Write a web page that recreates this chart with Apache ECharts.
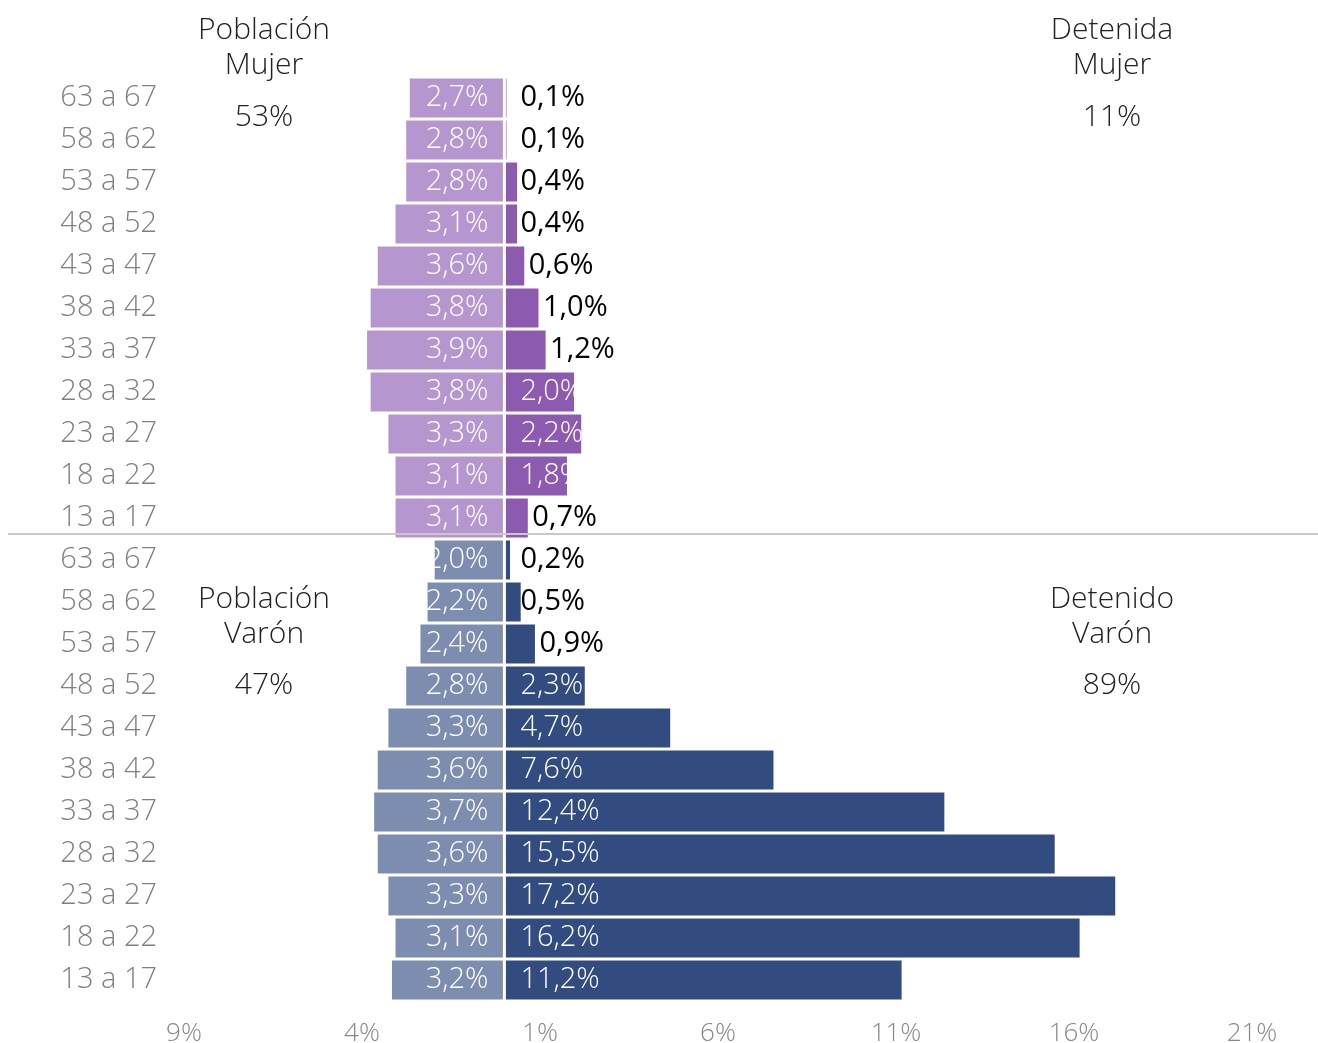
<!DOCTYPE html>
<html>
<head>
<meta charset="utf-8">
<script src="https://cdn.jsdelivr.net/npm/echarts@6/dist/echarts.min.js"></script>
<style>
  html, body { margin: 0; padding: 0; background: #fff; }
  #main { width: 1318px; height: 1043px; }
</style>
</head>
<body>
<div id="main"></div>
<script>
var chart = echarts.init(document.getElementById('main'));
var FONT = '"Open Sans", Lato, sans-serif';
var W = 300;

// tramos de edad, de arriba a abajo
var edades = ['63 a 67', '58 a 62', '53 a 57', '48 a 52', '43 a 47', '38 a 42',
              '33 a 37', '28 a 32', '23 a 27', '18 a 22', '13 a 17'];

var poblacionMujer = [2.7, 2.8, 2.8, 3.1, 3.6, 3.8, 3.9, 3.8, 3.3, 3.1, 3.1];
var detenidaMujer  = [0.1, 0.1, 0.4, 0.4, 0.6, 1.0, 1.2, 2.0, 2.2, 1.8, 0.7];
var poblacionVaron = [2.0, 2.2, 2.4, 2.8, 3.3, 3.6, 3.7, 3.6, 3.3, 3.1, 3.2];
var detenidoVaron  = [0.2, 0.5, 0.9, 2.3, 4.7, 7.6, 12.4, 15.5, 17.2, 16.2, 11.2];

var totales = { poblacionMujer: '53%', detenidaMujer: '11%', poblacionVaron: '47%', detenidoVaron: '89%' };

var categorias = edades.concat(edades);
var vacio = edades.map(function () { return '-'; });

function fmt(v) {
  return Math.abs(v).toFixed(1).replace('.', ',') + '%';
}

// la población va a la izquierda (negativo)
function izquierda(arr) {
  return arr.map(function (v) { return -v; });
}

// etiquetas de detenidos: blancas dentro si la barra es ancha, negras fuera si no
function derecha(arr) {
  return arr.map(function (v) {
    var label;
    if (v >= 1.5) {
      label = { color: '#fff', position: 'insideLeft', distance: 16 };
    } else if (v < 0.55) {
      label = { color: '#000', fontWeight: 400, position: 'insideLeft', distance: 16 };
    } else {
      label = { color: '#000', fontWeight: 400, position: 'right', distance: 3 };
    }
    return { value: v, label: label };
  });
}

function serie(name, data, color, isLeft) {
  return {
    name: name,
    type: 'bar',
    stack: 'total',
    barCategoryGap: 0,
    data: data,
    itemStyle: { color: color, borderColor: '#fff', borderWidth: 1.5 },
    label: {
      show: true,
      position: isLeft ? 'insideRight' : 'insideLeft',
      distance: 16,
      color: '#fff',
      fontSize: 29,
      fontWeight: W,
      fontFamily: FONT,
      formatter: function (p) { return fmt(p.value); }
    }
  };
}

var tituloFont = W + ' 30px ' + FONT;
function texto(x, y, str) {
  return {
    type: 'text', x: x, y: y,
    style: { text: str, fill: '#222', font: tituloFont, align: 'center', verticalAlign: 'middle' }
  };
}

var option = {
  animation: false,
  grid: { left: 184, right: 66, top: 77, height: 924, outerBoundsMode: 'none', containLabel: false },
  xAxis: {
    type: 'value',
    min: -9, max: 21, interval: 5,
    axisLine: { show: false },
    axisTick: { show: false },
    splitLine: { show: false },
    axisLabel: {
      color: '#888', fontSize: 26, fontWeight: W, fontFamily: FONT, margin: 20,
      formatter: function (v) { return Math.abs(v) + '%'; }
    }
  },
  yAxis: {
    type: 'category',
    inverse: true,
    data: categorias,
    axisLine: { show: false },
    axisTick: { show: false },
    axisLabel: { color: '#808080', fontSize: 29, fontWeight: W, fontFamily: FONT, margin: 27 }
  },
  series: [
    serie('Población Mujer', izquierda(poblacionMujer).concat(vacio), '#b596cf', true),
    serie('Detenida Mujer', derecha(detenidaMujer).concat(vacio), '#8c5bb0', false),
    serie('Población Varón', vacio.concat(izquierda(poblacionVaron)), '#7d8db0', true),
    serie('Detenido Varón', vacio.concat(derecha(detenidoVaron)), '#324c7f', false)
  ],
  graphic: [
    {
      type: 'line',
      shape: { x1: 8, y1: 534, x2: 1318, y2: 534 },
      style: { stroke: '#c8c8c8', lineWidth: 2 },
      z: 100
    },
    texto(264, 30, 'Población'),
    texto(264, 65, 'Mujer'),
    texto(264, 117, totales.poblacionMujer),
    texto(1112, 30, 'Detenida'),
    texto(1112, 65, 'Mujer'),
    texto(1112, 117, totales.detenidaMujer),
    texto(264, 599, 'Población'),
    texto(264, 634, 'Varón'),
    texto(264, 685, totales.poblacionVaron),
    texto(1112, 599, 'Detenido'),
    texto(1112, 634, 'Varón'),
    texto(1112, 685, totales.detenidoVaron)
  ]
};

chart.setOption(option);
</script>
</body>
</html>
